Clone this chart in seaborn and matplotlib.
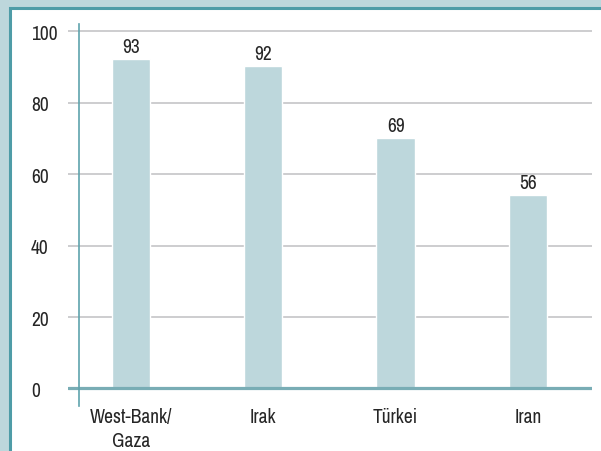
import matplotlib
matplotlib.use("Agg")
import matplotlib.pyplot as plt
from matplotlib.patches import Rectangle
import seaborn as sns

# Data
categories = ["West-Bank/\nGaza", "Irak", "Türkei", "Iran"]
bar_heights = [92.2, 90.4, 70.0, 54.2]   # heights as drawn in the reference
value_labels = ["93", "92", "69", "56"]  # printed values above bars
y_ticks = [0, 20, 40, 60, 80, 100]

sns.set_theme(style="white")
plt.rcParams['font.family'] = ['Archivo Narrow', 'Liberation Sans', 'DejaVu Sans']

OUTER = "#bdd7dc"
BAR = "#bdd7dc"
TEAL = "#4e9ca7"
AXIS = "#5fa3ad"
ZERO = "#79adb5"
GRID = "#c9c9cb"
TEXT = "#262626"
FS = 14

W, H = 601, 452
fig = plt.figure(figsize=(W / 100, H / 100), dpi=100, facecolor=OUTER)

# white panel with teal border
panel = Rectangle((10.5 / W, -0.05), 1.1, (H - 8.5) / H + 0.05, transform=fig.transFigure,
                  facecolor="white", edgecolor=TEAL, linewidth=2.2, zorder=-10)
fig.add_artist(panel)

left, right, top, bottom = 68, 592, 25, 407
ax = fig.add_axes([left / W, (H - bottom) / H, (right - left) / W, (bottom - top) / H])
ax.set_facecolor("none")

sns.barplot(x=categories, y=bar_heights, color=BAR, saturation=1, width=0.29, ax=ax, zorder=2)

ax.set_xlim(-0.476, 3.484)
ax.set_ylim(-4.9, 102.04)

for i, (h, lab) in enumerate(zip(bar_heights, value_labels)):
    ax.annotate(lab, (i, h), xytext=(0, 2.2), textcoords="offset points",
                ha="center", va="bottom", fontsize=FS, color=TEXT)

ax.set_yticks(y_ticks)
ax.set_yticklabels([str(t) for t in y_ticks])
for t in y_ticks[1:]:
    ax.axhline(t, color=GRID, linewidth=1.3, zorder=1)
ax.axhline(0, color=ZERO, linewidth=2.3, zorder=3)

for s in ["top", "right", "bottom"]:
    ax.spines[s].set_visible(False)
ax.spines["left"].set_position(("data", -0.393))
ax.spines["left"].set_color(AXIS)
ax.spines["left"].set_linewidth(1.2)
ax.spines["left"].set_zorder(4)

ax.tick_params(axis="y", length=0, pad=34.5, labelsize=FS, colors=TEXT)
for lbl in ax.get_yticklabels():
    lbl.set_horizontalalignment("left")
ax.tick_params(axis="x", length=0, pad=0.8, labelsize=FS, colors=TEXT)
for lbl in ax.get_xticklabels():
    lbl.set_linespacing(1.35)
ax.set_xlabel("")
ax.set_ylabel("")

fig.savefig("out.png", dpi=100, facecolor=OUTER)
